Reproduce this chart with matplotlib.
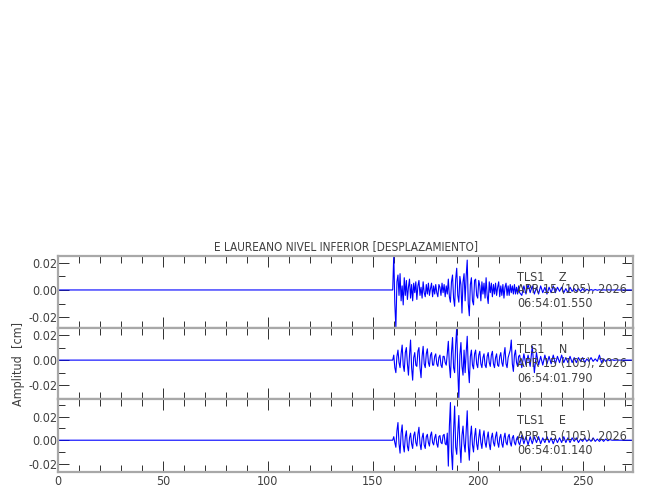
import matplotlib
matplotlib.use('Agg')
import matplotlib.pyplot as plt
import numpy as np
from matplotlib import font_manager
from matplotlib.ticker import MultipleLocator, FormatStrFormatter

# 細身のフォントがあれば使う
has_cond = any(f.name == 'DejaVu Sans' and f.stretch == 'condensed'
               for f in font_manager.fontManager.ttflist)
if has_cond:
    plt.rcParams['font.family'] = ['DejaVu Sans']
    plt.rcParams['font.stretch'] = 'condensed'
    FS = 9
else:
    plt.rcParams['font.family'] = ['Liberation Sans', 'DejaVu Sans']
    FS = 8.5

# 波形データ: 160-220 s は 0.5 秒間隔, 221-274 s は 1 秒間隔, 160 s 以前は 0
z_fast = [0.026, -0.010, -0.028, 0.006, 0.011, -0.004, 0.012, -0.008, 0.003, -0.011,
          0.009, -0.004, 0.007, -0.007, 0.002, 0.008, -0.006, 0.004, -0.008, 0.005,
          -0.002, 0.006, -0.007, 0.003, 0.007, -0.004, 0.002, -0.006, 0.006, -0.002,
          -0.005, 0.004, -0.003, 0.005, -0.004, 0.001, 0.005, -0.005, 0.003, -0.003,
          0.004, -0.002, -0.005, 0.004, 0.002, -0.004, 0.005, -0.002, 0.004, -0.005,
          0.003, -0.003, 0.008, -0.005, -0.009, 0.006, 0.011, -0.006, -0.012, 0.008,
          0.016, -0.004, -0.009, 0.010, 0.004, -0.017, 0.006, 0.012, -0.008, 0.010,
          0.022, -0.010, -0.019, 0.004, 0.009, -0.008, -0.011, 0.007, 0.008, -0.004,
          -0.006, 0.007, 0.003, -0.008, 0.006, -0.003, 0.005, -0.006, 0.009, -0.004,
          -0.010, 0.006, -0.002, 0.005, -0.005, 0.004, -0.003, 0.005, -0.004, 0.002,
          0.006, -0.005, 0.003, -0.004, 0.004, -0.006, 0.002, 0.005, -0.004, 0.003,
          -0.004, 0.004, -0.002, 0.003, -0.003, 0.004, -0.003, 0.002, -0.003, 0.003,
          -0.002]
z_slow = [-0.004, 0.003, -0.003, 0.004, -0.002, 0.003, -0.003, 0.002, -0.003, 0.003,
          -0.002, 0.002, -0.003, 0.002, -0.002, 0.003, -0.002, 0.002, -0.001, 0.002,
          -0.002, 0.001, -0.002, 0.002, -0.001, 0.001, -0.001, 0.001, -0.001, 0.001,
          -0.001, 0.0005, -0.0005, 0.0003, -0.0003, 0.0003, -0.0002, 0.0002, -0.0002, 0.0001,
          -0.0001, 0.0001, 0.0, 0.0, 0.0, 0.0, 0.0, 0.0, 0.0, 0.0,
          0.0, 0.0, 0.0, 0.0]

n_fast = [0.004, -0.006, -0.010, 0.003, 0.008, -0.002, -0.006, 0.005, 0.012, -0.004,
          -0.009, 0.006, 0.010, -0.003, -0.012, 0.004, 0.016, -0.006, -0.016, 0.002,
          0.006, -0.004, -0.005, 0.007, 0.010, -0.006, -0.014, 0.003, 0.011, -0.003,
          -0.006, 0.005, 0.009, -0.002, -0.005, 0.004, 0.006, -0.004, -0.004, 0.003,
          0.005, -0.003, -0.005, 0.002, 0.004, -0.004, -0.006, 0.003, 0.003, -0.002,
          -0.004, 0.005, 0.015, -0.004, -0.014, 0.006, 0.018, -0.006, -0.010, 0.012,
          0.026, -0.008, -0.031, 0.004, 0.014, -0.005, -0.012, 0.008, -0.010, 0.006,
          0.019, -0.006, -0.018, 0.003, 0.008, -0.004, -0.007, 0.005, 0.008, -0.003,
          -0.006, 0.004, 0.007, -0.003, -0.006, 0.002, 0.005, -0.004, -0.006, 0.003,
          0.006, -0.002, -0.005, 0.004, 0.007, -0.003, -0.006, 0.002, 0.005, -0.004,
          -0.005, 0.003, 0.006, -0.002, -0.005, 0.004, 0.010, -0.003, -0.006, 0.002,
          0.005, 0.008, 0.016, -0.003, -0.009, 0.004, 0.008, -0.002, -0.005, 0.003,
          0.004]
n_slow = [-0.006, 0.005, -0.004, 0.004, -0.005, 0.011, -0.010, 0.006, -0.004, 0.003,
          -0.004, 0.004, -0.003, 0.003, -0.003, 0.004, -0.003, 0.003, -0.002, 0.004,
          -0.002, 0.002, -0.002, 0.003, -0.002, 0.002, -0.002, 0.002, -0.001, 0.002,
          -0.002, 0.001, -0.001, 0.002, -0.001, 0.001, -0.001, 0.004, -0.002, 0.001,
          -0.001, 0.0005, -0.0005, 0.0003, -0.0002, 0.0001, 0.0, 0.0, 0.0, 0.0,
          0.0, 0.0, 0.0, 0.0]

e_fast = [0.003, -0.002, -0.006, 0.008, 0.015, -0.003, -0.011, 0.006, 0.013, -0.004,
          -0.010, 0.003, 0.008, -0.005, -0.009, 0.002, 0.006, -0.003, -0.007, 0.004,
          0.007, -0.002, -0.005, 0.005, 0.011, -0.003, -0.008, 0.002, 0.006, -0.004,
          -0.007, 0.003, 0.005, -0.002, -0.005, 0.004, 0.007, -0.002, -0.004, 0.002,
          0.005, -0.003, -0.006, 0.003, 0.004, -0.002, -0.003, 0.004, 0.005, -0.003,
          -0.004, 0.006, -0.022, 0.012, 0.032, -0.010, -0.025, 0.008, 0.029, -0.006,
          -0.012, 0.006, 0.021, -0.004, -0.019, 0.004, 0.012, -0.003, -0.010, 0.008,
          0.025, -0.004, -0.017, 0.003, 0.012, -0.004, -0.010, 0.003, 0.010, -0.003,
          -0.008, 0.002, 0.009, -0.002, -0.007, 0.003, 0.008, -0.002, -0.006, 0.002,
          0.007, -0.003, -0.008, 0.002, 0.006, -0.002, -0.005, 0.003, 0.007, -0.002,
          -0.006, 0.002, 0.005, -0.003, -0.006, 0.002, 0.006, -0.002, -0.004, 0.003,
          0.005, -0.002, -0.005, 0.002, 0.004, -0.002, -0.004, 0.001, 0.003, -0.002,
          -0.004]
e_slow = [0.004, -0.003, 0.003, -0.004, 0.003, -0.003, 0.003, -0.002, 0.003, -0.003,
          0.002, -0.002, 0.003, -0.002, 0.002, -0.003, 0.002, -0.002, 0.002, -0.002,
          0.003, -0.002, 0.002, -0.002, 0.002, -0.001, 0.002, -0.002, 0.001, -0.001,
          0.002, -0.001, 0.001, -0.001, 0.002, -0.001, 0.001, -0.001, 0.001, -0.001,
          0.001, -0.0005, 0.0005, 0.0, 0.0, 0.0, 0.0, 0.0, 0.0, 0.0,
          0.0, 0.0, 0.0, 0.0]

components = ['Z', 'N', 'E']
start_times = ['06:54:01.550', '06:54:01.790', '06:54:01.140']
date_label = 'APR 15 (105), 2026'
station = 'TLS1'
title = 'E LAUREANO NIVEL INFERIOR [DESPLAZAMIENTO]'

# 各パネルの縦軸範囲
ylims = [(-0.028, 0.025), (-0.031, 0.0256), (-0.027, 0.035)]
# 注記の縦位置 (データ座標)
label_y = [(0.0089, 0.0, -0.0096), (0.0088, -0.0024, -0.0144), (0.0169, 0.0034, -0.0084)]

GRAY = '#a8a8a8'
TEXT = '#404040'

fig = plt.figure(figsize=(6.5, 5), dpi=100)
left, width = 58 / 650, 575 / 650
bounds = [(256, 328), (328, 399), (399, 472)]

traces = [(z_fast, z_slow), (n_fast, n_slow), (e_fast, e_slow)]
for k, (fast, slow) in enumerate(traces):
    top, bot = bounds[k]
    ax = fig.add_axes([left, 1 - bot / 500, width, (bot - top) / 500])
    t_fast = 160 + 0.5 * np.arange(len(fast))
    t_slow = 221 + np.arange(len(slow))
    t = np.concatenate([[0, 159.5], t_fast, t_slow])
    y = np.concatenate([[0.0, 0.0], fast, slow])
    ax.plot(t, y, color='blue', lw=0.8)
    ax.set_xlim(0, 274)
    ax.set_ylim(*ylims[k])

    for s in ax.spines.values():
        s.set_color(GRAY)
        s.set_linewidth(1.6)

    ax.xaxis.set_major_locator(MultipleLocator(50))
    ax.xaxis.set_minor_locator(MultipleLocator(10))
    ax.yaxis.set_major_locator(MultipleLocator(0.02))
    ax.yaxis.set_minor_locator(MultipleLocator(0.01))
    ax.yaxis.set_major_formatter(FormatStrFormatter('%.2f'))
    ax.tick_params(which='both', direction='in', top=True, right=True,
                   color='#303030', width=0.7, labelcolor=TEXT, labelsize=FS)
    ax.tick_params(which='major', length=8)
    ax.tick_params(which='minor', length=5)
    ax.tick_params(axis='y', pad=0.5)
    ax.tick_params(axis='x', pad=2)
    if k < 2:
        ax.tick_params(axis='x', labelbottom=False)

    ly = label_y[k]
    ax.text(218.8, ly[0], f'{station}    {components[k]}', color=TEXT, fontsize=FS, va='center')
    ax.text(218.8, ly[1], date_label, color=TEXT, fontsize=FS, va='center')
    ax.text(218.8, ly[2], start_times[k], color=TEXT, fontsize=FS, va='center')

    if k == 0:
        ax.set_title(title, color=TEXT, fontsize=FS - 0.5, pad=4)
    if k == 1:
        ax.set_ylabel('Amplitud  [cm]', color=TEXT, fontsize=FS, labelpad=2)

plt.savefig('out.png', dpi=100)
plt.close()
